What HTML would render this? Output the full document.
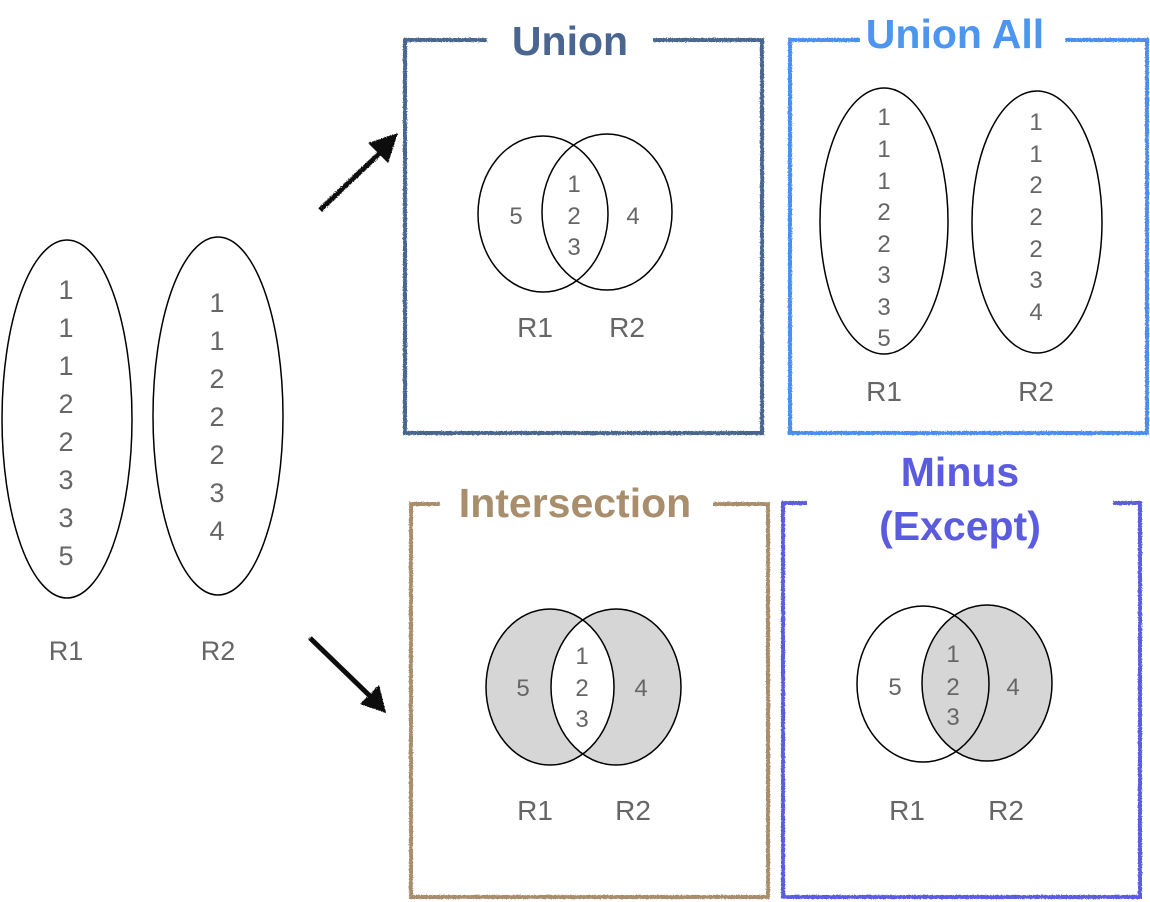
<!DOCTYPE html>
<html><head><meta charset="utf-8"><style>html,body{margin:0;padding:0;background:#fff}svg{display:block}</style></head>
<body>
<svg width="1150" height="902" viewBox="0 0 1150 902" xmlns="http://www.w3.org/2000/svg" font-family="Liberation Sans, Arial, sans-serif">
<defs>
<filter id="rough"><feTurbulence type="fractalNoise" baseFrequency="0.8" numOctaves="2" result="n"/><feDisplacementMap in="SourceGraphic" in2="n" scale="2.5"/></filter>
</defs>
<rect width="1150" height="902" fill="#fff"/>

<g fill="none" stroke="#000" stroke-width="1.5">
<ellipse cx="67" cy="419" rx="65" ry="179"/>
<ellipse cx="218" cy="416" rx="65" ry="179"/>
</g>
<g fill="#666" font-size="27" text-anchor="middle">
<text x="66" y="299">1</text><text x="66" y="337">1</text><text x="66" y="375">1</text><text x="66" y="413">2</text><text x="66" y="451">2</text><text x="66" y="489">3</text><text x="66" y="527">3</text><text x="66" y="565">5</text>
<text x="217" y="312">1</text><text x="217" y="350">1</text><text x="217" y="388">2</text><text x="217" y="426">2</text><text x="217" y="464">2</text><text x="217" y="502">3</text><text x="217" y="540">4</text>
<text x="66" y="660">R1</text><text x="218" y="660">R2</text>
</g>

<g filter="url(#rough)">
<line x1="320" y1="210" x2="383" y2="150" stroke="#111" stroke-width="5"/>
<polygon points="398,133 368,143 388,163" fill="#111"/>
<line x1="310" y1="638" x2="372" y2="698" stroke="#111" stroke-width="5"/>
<polygon points="386,713 360,704 379,685" fill="#111"/>
</g>

<g fill="none" stroke-width="4" filter="url(#rough)">
<path d="M487,40 H405 V433 H762 V40 H653" stroke="#4a6690"/>
<path d="M860,40 H790 V433 H1147 V40 H1065" stroke="#4a8ff0"/>
<path d="M440,504 H411 V897 H768 V504 H713" stroke="#a88e6c"/>
<path d="M807,503 H783 V897 H1140 V503 H1113" stroke="#5b5be0"/>
</g>

<g font-weight="bold" text-anchor="middle" font-size="41">
<text x="570" y="55" fill="#4a6690">Union</text>
<text x="955" y="48" fill="#4d96f0">Union All</text>
<text x="575" y="517" fill="#a88e6c">Intersection</text>
<text x="960" y="486" fill="#5b5be0">Minus</text>
<text x="960" y="540" fill="#5b5be0">(Except)</text>
</g>

<g fill="none" stroke="#000" stroke-width="1.5">
<ellipse cx="543" cy="214" rx="65" ry="78"/>
<ellipse cx="607" cy="212" rx="65" ry="78"/>
</g>
<g fill="#666" font-size="24" text-anchor="middle">
<text x="574" y="192">1</text><text x="574" y="224">2</text><text x="574" y="255">3</text>
<text x="516" y="224">5</text><text x="633" y="224">4</text>
</g>
<g fill="#666" font-size="28" text-anchor="middle"><text x="535" y="337">R1</text><text x="627" y="337">R2</text></g>

<g fill="none" stroke="#000" stroke-width="1.5">
<ellipse cx="884" cy="221" rx="64" ry="133"/>
<ellipse cx="1037" cy="222" rx="65" ry="131"/>
</g>
<g fill="#666" font-size="24" text-anchor="middle">
<text x="884" y="125">1</text><text x="884" y="157">1</text><text x="884" y="189">1</text><text x="884" y="220">2</text><text x="884" y="252">2</text><text x="884" y="283">3</text><text x="884" y="315">3</text><text x="884" y="346">5</text>
<text x="1036" y="130">1</text><text x="1036" y="162">1</text><text x="1036" y="193">2</text><text x="1036" y="225">2</text><text x="1036" y="257">2</text><text x="1036" y="288">3</text><text x="1036" y="320">4</text>
</g>
<g fill="#666" font-size="28" text-anchor="middle"><text x="884" y="401">R1</text><text x="1036" y="401">R2</text></g>

<defs>
<clipPath id="iL"><ellipse cx="550" cy="687" rx="64" ry="78"/></clipPath>
</defs>
<ellipse cx="550" cy="687" rx="64" ry="78" fill="#d6d6d6"/>
<ellipse cx="616" cy="687" rx="65" ry="78" fill="#d6d6d6"/>
<ellipse cx="616" cy="687" rx="65" ry="78" fill="#fff" clip-path="url(#iL)"/>
<g fill="none" stroke="#000" stroke-width="1.5">
<ellipse cx="550" cy="687" rx="64" ry="78"/>
<ellipse cx="616" cy="687" rx="65" ry="78"/>
</g>
<g fill="#666" font-size="24" text-anchor="middle">
<text x="582" y="664">1</text><text x="582" y="696">2</text><text x="582" y="727">3</text>
<text x="523" y="696">5</text><text x="641" y="696">4</text>
</g>
<g fill="#666" font-size="28" text-anchor="middle"><text x="535" y="820">R1</text><text x="633" y="820">R2</text></g>

<ellipse cx="987" cy="683" rx="65" ry="78" fill="#d6d6d6"/>
<g fill="none" stroke="#000" stroke-width="1.5">
<ellipse cx="923" cy="684" rx="66" ry="78"/>
<ellipse cx="987" cy="683" rx="65" ry="78"/>
</g>
<g fill="#666" font-size="24" text-anchor="middle">
<text x="953" y="662">1</text><text x="953" y="695">2</text><text x="953" y="725">3</text>
<text x="895" y="695">5</text><text x="1013" y="695">4</text>
</g>
<g fill="#666" font-size="28" text-anchor="middle"><text x="907" y="820">R1</text><text x="1006" y="820">R2</text></g>
</svg>
</body></html>
